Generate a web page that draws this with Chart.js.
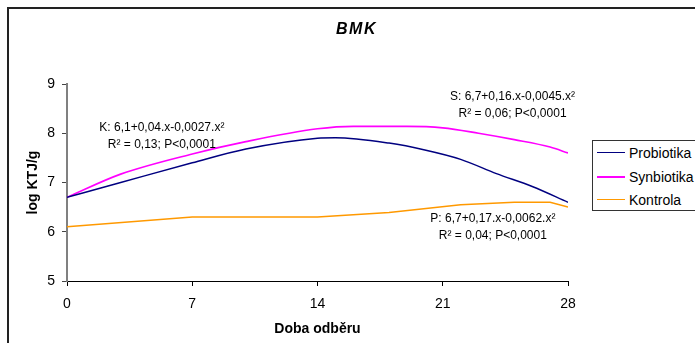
<!DOCTYPE html>
<html>
<head>
<meta charset="utf-8">
<script src="https://cdn.jsdelivr.net/npm/chart.js@4"></script>
<style>
	html, body { margin: 0; padding: 0; background: #fff; }
	body { width: 695px; height: 343px; position: relative; overflow: hidden; font-family: "Liberation Sans", Arial, sans-serif; }
	.frame { position: absolute; left: 7px; top: 7px; width: 800px; height: 400px; border: 2px solid #222; }
	.wrap { position: absolute; left: 0; top: 0; width: 695px; height: 343px; }
	.legend { position: absolute; left: 592px; top: 140px; width: 130px; height: 69px; border: 1px solid #333; background: #fff; }
	.legend div { position: absolute; left: 36px; font-size: 14px; line-height: 16px; white-space: nowrap; }
	.legend span { position: absolute; left: -32px; top: 7px; width: 28px; }
</style>
</head>
<body>
<div class="frame"></div>
<div class="wrap"><canvas id="chart"></canvas></div>
<div class="legend" id="legend"></div>
<script>
// hodnoty
const seriesNames = ['Probiotika', 'Synbiotika', 'Kontrola'];
const seriesColors = ['#000080', '#FF00FF', '#FF9900'];

const probDays = [0, 3, 7, 10, 14, 15, 18, 20, 22, 24, 26, 28];
const probValues = [6.7, 7.0, 7.4, 7.68, 7.9, 7.91, 7.8, 7.66, 7.47, 7.18, 6.92, 6.6];

const synDays = [0, 3, 7, 10, 14, 16, 19, 21, 23, 25, 27, 28];
const synValues = [6.7, 7.17, 7.58, 7.83, 8.09, 8.14, 8.14, 8.11, 8.0, 7.87, 7.72, 7.6];

const kontDays = [0, 7, 14, 18, 22, 25, 27, 28];
const kontValues = [6.1, 6.3, 6.3, 6.39, 6.55, 6.6, 6.6, 6.5];

const xTicks = [0, 7, 14, 21, 28];
const yTicks = [5, 6, 7, 8, 9];

// rovnice regresí
const notes = [
	{ x: 5.3, y: 8.12, lines: ['K: 6,1+0,04.x-0,0027.x²', 'R² = 0,13; P<0,0001'] },
	{ x: 24.9, y: 8.74, lines: ['S: 6,7+0,16.x-0,0045.x²', 'R² = 0,06; P<0,0001'] },
	{ x: 23.8, y: 6.27, lines: ['P: 6,7+0,17.x-0,0062.x²', 'R² = 0,04; P<0,0001'] }
];

function toPoints(days, values) {
	return days.map((d, i) => ({ x: d, y: values[i] }));
}

const notesPlugin = {
	id: 'notes',
	afterDatasetsDraw(chart) {
		const ctx = chart.ctx;
		const xs = chart.scales.x, ys = chart.scales.y;
		ctx.save();
		ctx.font = '12px "Liberation Sans", Arial, sans-serif';
		ctx.fillStyle = '#000';
		ctx.textAlign = 'center';
		ctx.textBaseline = 'middle';
		notes.forEach(n => {
			const px = xs.getPixelForValue(n.x);
			const py = ys.getPixelForValue(n.y);
			n.lines.forEach((t, i) => ctx.fillText(t, px, py + i * 17));
		});
		// nadpis
		ctx.font = 'italic bold 16px "Liberation Sans", Arial, sans-serif';
		ctx.letterSpacing = '1.5px';
		ctx.fillText('BMK', chart.width / 2 + 9, 30);
		ctx.restore();
	}
};

function chartInit() {
	const el = document.getElementById('chart');
	const datasets = [
		{ data: toPoints(probDays, probValues), tension: 0.4, cubicInterpolationMode: 'monotone', borderWidth: 1.5 },
		{ data: toPoints(synDays, synValues), tension: 0.4, cubicInterpolationMode: 'monotone', borderWidth: 1.6 },
		{ data: toPoints(kontDays, kontValues), tension: 0, borderWidth: 1.5 }
	].map((ds, i) => Object.assign(ds, {
		label: seriesNames[i],
		borderColor: seriesColors[i],
		backgroundColor: seriesColors[i],
		pointRadius: 0,
		fill: false
	}));

	new Chart(el, {
		type: 'line',
		data: { datasets: datasets },
		options: {
			responsive: true,
			maintainAspectRatio: false,
			animation: false,
			devicePixelRatio: 1,
			layout: { padding: { left: 0, top: 84, right: 127, bottom: 0 } },
			plugins: {
				legend: { display: false },
				title: { display: false },
				tooltip: { enabled: false }
			},
			scales: {
				x: {
					type: 'linear',
					min: 0,
					max: 28,
					afterBuildTicks: s => { s.ticks = xTicks.map(v => ({ value: v })); },
					afterFit: s => { s.height = 62; },
					grid: { drawOnChartArea: false, drawTicks: true, tickLength: 5, color: '#000' },
					border: { color: '#000', width: 1 },
					ticks: { color: '#000', padding: 10, maxRotation: 0, font: { size: 14, family: '"Liberation Sans", Arial' } },
					title: { display: true, text: 'Doba odběru', color: '#000', padding: { top: 0, bottom: 5 }, font: { size: 14, weight: 'bold', family: '"Liberation Sans", Arial' } }
				},
				y: {
					min: 5,
					max: 9,
					afterBuildTicks: s => { s.ticks = yTicks.map(v => ({ value: v })); },
					afterFit: s => { s.width = 67; },
					grid: { drawOnChartArea: false, drawTicks: true, tickLength: 5, color: '#444' },
					border: { color: '#808080', width: 2 },
					ticks: { color: '#000', padding: 7, font: { size: 14, family: '"Liberation Sans", Arial' } },
					title: { display: true, text: 'log KTJ/g', color: '#000', padding: { top: 25, bottom: 0 }, font: { size: 14, weight: 'bold', family: '"Liberation Sans", Arial' } }
				}
			}
		},
		plugins: [notesPlugin]
	});

	// legenda
	const legend = document.getElementById('legend');
	seriesNames.forEach((name, i) => {
		const item = document.createElement('div');
		item.style.top = (4 + i * 23.5) + 'px';
		item.innerHTML = '<span style="border-top:' + (i === 1 ? 2 : 1.5) + 'px solid ' + seriesColors[i] + '"></span>' + name;
		legend.appendChild(item);
	});
}
window.addEventListener('load', chartInit);
</script>
</body>
</html>
